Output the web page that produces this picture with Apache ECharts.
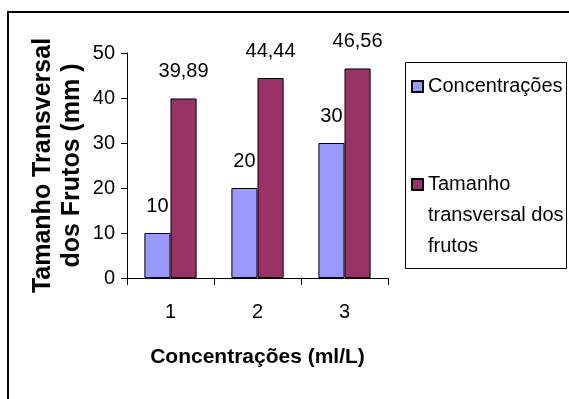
<!DOCTYPE html>
<html>
<head>
<meta charset="utf-8">
<script src="https://cdn.jsdelivr.net/npm/echarts@6/dist/echarts.min.js"></script>
<style>html,body{margin:0;padding:0;background:#fff}#c{width:569px;height:399px}</style>
</head>
<body>
<div id="c"></div>
<script>
var categories = ['1', '2', '3'];
var concentracoes = [10, 20, 30];
var tamanho = [39.89, 44.44, 46.56];
var yTicks = [0, 10, 20, 30, 40, 50];
var seriesNames = ['Concentrações', 'Tamanho transversal dos frutos'];

var FONT = '"Liberation Sans", Arial, sans-serif';
var chart = echarts.init(document.getElementById('c'), null, {renderer: 'canvas'});
function fmtComma(p) { return String(p.value).replace('.', ','); }

chart.setOption({
  backgroundColor: '#ffffff',
  animation: false,
  grid: {left: 127, right: 181, top: 53, bottom: 121, containLabel: false},
  xAxis: {
    type: 'category',
    data: categories,
    axisLine: {lineStyle: {color: '#000', width: 1}},
    axisTick: {show: true, length: 7, lineStyle: {color: '#000'}},
    axisLabel: {fontFamily: FONT, fontSize: 20, color: '#000', margin: 24},
    name: 'Concentrações (ml/L)',
    nameLocation: 'middle',
    nameGap: 69,
    nameTextStyle: {fontFamily: FONT, fontSize: 21, fontWeight: 'bold', color: '#000'}
  },
  yAxis: {
    type: 'value',
    min: yTicks[0],
    max: yTicks[yTicks.length - 1],
    interval: yTicks[1] - yTicks[0],
    splitLine: {show: false},
    axisLine: {show: true, lineStyle: {color: '#000', width: 1}},
    axisTick: {show: true, length: 6, lineStyle: {color: '#000'}},
    axisLabel: {fontFamily: FONT, fontSize: 20, color: '#000', margin: 12},
    name: 'Tamanho Transversal\ndos Frutos (mm )',
    nameLocation: 'middle',
    nameRotate: 90,
    nameGap: 40,
    nameTextStyle: {fontFamily: FONT, fontSize: 25, fontWeight: 'bold', color: '#000', lineHeight: 29}
  },
  legend: [{
    data: [seriesNames[0]],
    orient: 'vertical',
    left: 411, top: 71,
    padding: 0,
    itemWidth: 11, itemHeight: 11,
    itemGap: 0,
    textStyle: {fontFamily: FONT, fontSize: 20, color: '#000', lineHeight: 31},
    icon: 'rect'
  }, {
    data: [seriesNames[1]],
    orient: 'vertical',
    left: 411, top: 107,
    padding: 0,
    itemWidth: 11, itemHeight: 11,
    itemGap: 0,
    formatter: function () { return '\n\nTamanho\ntransversal dos\nfrutos'; },
    textStyle: {fontFamily: FONT, fontSize: 20, color: '#000', lineHeight: 31},
    icon: 'rect'
  }],
  graphic: [{
    type: 'rect', silent: true,
    shape: {x: 8, y: 12, width: 580, height: 420},
    style: {fill: 'none', stroke: '#000', lineWidth: 2}
  }, {
    type: 'rect', silent: true,
    shape: {x: 405.5, y: 62.5, width: 161, height: 206},
    style: {fill: 'none', stroke: '#000', lineWidth: 1}
  }],
  series: [{
    name: seriesNames[0],
    type: 'bar',
    data: concentracoes,
    barGap: '0%',
    barCategoryGap: '40%',
    itemStyle: {color: '#9999FF', borderColor: '#000', borderWidth: 1},
    label: {show: true, position: 'top', distance: 17, fontFamily: FONT, fontSize: 20, color: '#000', formatter: fmtComma}
  }, {
    name: seriesNames[1],
    type: 'bar',
    data: tamanho,
    barGap: '0%',
    barCategoryGap: '40%',
    itemStyle: {color: '#993366', borderColor: '#000', borderWidth: 1},
    label: {show: true, position: 'top', distance: 17, fontFamily: FONT, fontSize: 20, color: '#000', formatter: fmtComma}
  }]
});
</script>
</body>
</html>
